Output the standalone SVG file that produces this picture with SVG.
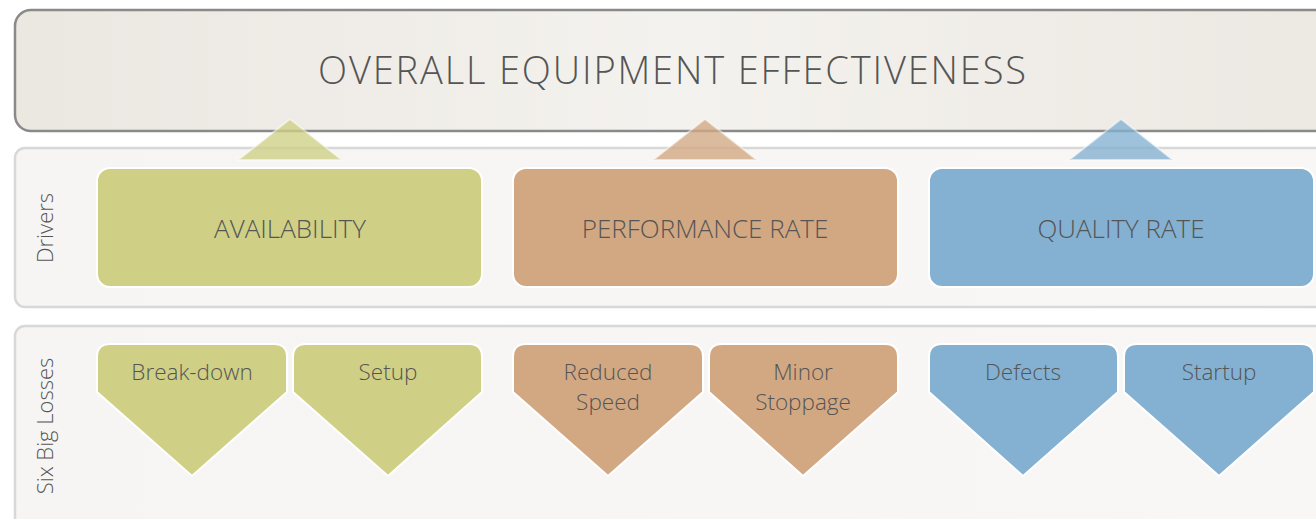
<svg xmlns="http://www.w3.org/2000/svg" width="1316" height="519" viewBox="0 0 1316 519">
<defs>
<linearGradient id="bannerG" x1="0" y1="0" x2="1" y2="0">
<stop offset="0" stop-color="#ebe7e1"/>
<stop offset="0.5" stop-color="#f4f2ee"/>
<stop offset="1" stop-color="#ece8e2"/>
</linearGradient>
<linearGradient id="panelG" x1="0" y1="0" x2="1" y2="0">
<stop offset="0" stop-color="#f6f5f3"/>
<stop offset="1" stop-color="#f8f7f5"/>
</linearGradient>
</defs>
<style>
.lbl{font-family:"Open Sans","Liberation Sans",sans-serif;font-weight:300;fill:#555555;text-anchor:middle}
.drv{font-size:26px}
.loss{font-size:22.5px}
.side{font-size:22px}
.panel{fill:url(#panelG);stroke:#d8d8d8;stroke-width:2.5}
.g{fill:#cfd085}
.t{fill:#d2a883}
.b{fill:#84b1d1}
.shape{stroke:#ffffff;stroke-width:2}
.tri{stroke:#ffffff;stroke-width:2;stroke-opacity:0.6;opacity:0.78}
</style>
<rect width="1316" height="519" fill="#ffffff"/>
<g id="banner">
<rect x="15" y="10" width="1330" height="121" rx="16" fill="url(#bannerG)" stroke="#8a8a8a" stroke-width="2.5"/>
<text class="lbl" x="672" y="84" font-size="38" textLength="708" lengthAdjust="spacing">OVERALL EQUIPMENT EFFECTIVENESS</text>
</g>
<g id="panel-drivers">
<rect class="panel" x="15" y="148" width="1330" height="159" rx="10"/>
<text class="lbl side" transform="translate(53,228) rotate(-90)">Drivers</text>
</g>
<g id="panel-losses">
<rect class="panel" x="15" y="326" width="1330" height="220" rx="10"/>
<text class="lbl side" transform="translate(53,426) rotate(-90)">Six Big Losses</text>
</g>
<g id="connectors">
<polygon class="tri g" points="238,160 290,119 342,160"/>
<polygon class="tri t" points="653,160 705,119 757,160"/>
<polygon class="tri b" points="1069,160 1121,119 1173,160"/>
</g>
<g id="availability">
<rect class="shape g" x="97" y="168" width="385" height="119" rx="13"/>
<text class="lbl drv" x="290" y="238">AVAILABILITY</text>
</g>
<g id="performance-rate">
<rect class="shape t" x="513" y="168" width="385" height="119" rx="13"/>
<text class="lbl drv" x="705" y="238">PERFORMANCE RATE</text>
</g>
<g id="quality-rate">
<rect class="shape b" x="929" y="168" width="385" height="119" rx="13"/>
<text class="lbl drv" x="1121" y="238">QUALITY RATE</text>
</g>
<g id="break-down">
<path class="shape g" d="M97,392 V357 Q97,344 110,344 H274 Q287,344 287,357 V392 L192,476 Z"/>
<text class="lbl loss" x="192" y="380">Break-down</text>
</g>
<g id="setup">
<path class="shape g" d="M293,392 V357 Q293,344 306,344 H469 Q482,344 482,357 V392 L388,476 Z"/>
<text class="lbl loss" x="388" y="380">Setup</text>
</g>
<g id="reduced-speed">
<path class="shape t" d="M513,392 V357 Q513,344 526,344 H690 Q703,344 703,357 V392 L608,476 Z"/>
<text class="lbl loss" x="608" y="380">Reduced</text>
<text class="lbl loss" x="608" y="410">Speed</text>
</g>
<g id="minor-stoppage">
<path class="shape t" d="M709,392 V357 Q709,344 722,344 H885 Q898,344 898,357 V392 L803,476 Z"/>
<text class="lbl loss" x="803" y="380">Minor</text>
<text class="lbl loss" x="803" y="410">Stoppage</text>
</g>
<g id="defects">
<path class="shape b" d="M929,392 V357 Q929,344 942,344 H1105 Q1118,344 1118,357 V392 L1023,476 Z"/>
<text class="lbl loss" x="1023" y="380">Defects</text>
</g>
<g id="startup">
<path class="shape b" d="M1124,392 V357 Q1124,344 1137,344 H1301 Q1314,344 1314,357 V392 L1219,476 Z"/>
<text class="lbl loss" x="1219" y="380">Startup</text>
</g>
</svg>
